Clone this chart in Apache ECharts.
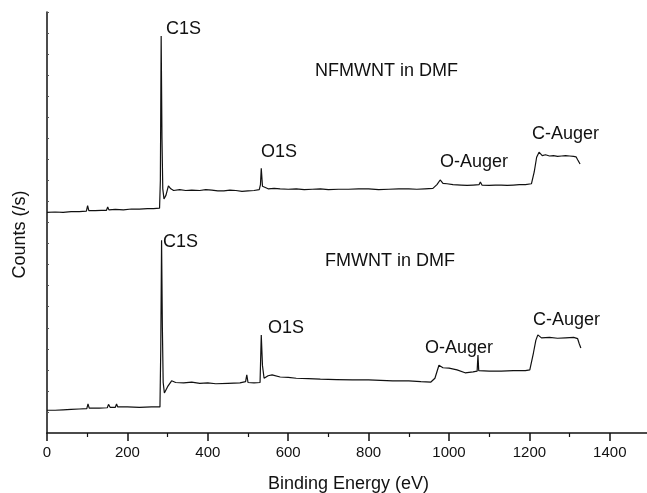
<!DOCTYPE html>
<html>
<head>
<meta charset="utf-8">
<script src="https://cdn.jsdelivr.net/npm/echarts@6/dist/echarts.min.js"></script>
<style>html,body{margin:0;padding:0;background:#fff;}#c{width:647px;height:493px;}</style>
</head>
<body>
<div id="c"></div>
<script>
// Binding energy (eV) / relative counts
const nfmwnt = [
 [0,52.4],[20,52.5],[40,52.4],[60,52.6],[80,52.6],[98,52.7],[101,54.0],[104,52.8],[120,52.8],[135,52.9],[148,52.9],[151,53.7],[154,53.0],
 [170,53.1],[190,53.0],[210,53.2],[230,53.2],[250,53.3],[265,53.3],[280,53.4],[282,60],[284,94.3],[286,70],[288,58],[291,55.6],
 [296,56.5],[302,58.7],[308,58.0],[315,57.6],[330,57.8],[345,57.6],[360,57.7],[380,57.6],[395,57.8],[410,57.7],[425,57.5],[440,57.5],
 [455,57.7],[470,57.6],[485,57.4],[500,57.5],[515,57.6],[528,57.8],[531,59],[533,62.9],[536,58.6],[540,58.2],[550,58.0],[565,58.1],
 [580,58.0],[600,57.9],[620,58.0],[640,57.8],[660,57.9],[680,58.0],[700,57.8],[725,57.9],[750,57.9],[775,58.0],[800,58.0],[825,57.8],
 [850,57.9],[875,58.0],[900,58.0],[920,57.9],[940,58.0],[960,58.1],[970,59],[978,60.1],[985,59.3],[995,59.2],[1010,59.0],
 [1030,58.9],[1045,58.8],[1060,58.9],[1075,59.0],[1078,59.6],[1082,58.9],[1100,58.8],[1115,58.9],[1130,58.9],[1145,58.8],[1160,58.9],
 [1175,59.0],[1190,59.0],[1205,59.2],[1212,62],[1218,65.5],[1224,66.7],[1232,65.9],[1240,66.1],[1250,65.8],[1260,65.9],[1270,65.7],
 [1280,65.8],[1290,65.9],[1300,65.8],[1310,65.7],[1316,65.6],[1320,64.9],[1326,63.9]
];
const fmwnt = [
 [0,5.4],[20,5.4],[40,5.5],[60,5.6],[80,5.7],[99,5.8],[102,6.9],[105,5.9],[130,5.9],[150,6.0],[153,6.8],[157,6.1],[170,6.1],
 [173,6.9],[176,6.2],[200,6.2],[230,6.1],[260,6.2],[281,6.2],[283,20],[285,45.8],[287,25],[289,12],[292,9.5],[300,11.0],
 [310,12.4],[320,12.0],[340,11.9],[360,12.1],[380,11.8],[400,11.9],[420,11.7],[450,11.8],[480,11.9],[494,12.2],[497,13.8],
 [500,12.0],[515,11.9],[530,12.0],[533,23.3],[536,16],[540,13.0],[550,13.6],[560,13.8],[580,13.3],[600,13.2],[620,13.0],
 [650,12.9],[680,12.8],[720,12.7],[760,12.6],[800,12.6],[830,12.5],[860,12.4],[900,12.4],[930,12.2],[955,12.1],[965,13],
 [975,16.1],[985,15.5],[1000,15.4],[1020,15.0],[1040,14.3],[1060,14.5],[1070,14.7],[1072,18.5],[1074,14.8],[1100,14.7],
 [1130,14.7],[1160,14.8],[1190,14.8],[1201,15.0],[1210,19],[1216,22],[1221,23.3],[1230,22.6],[1250,22.7],[1270,22.5],
 [1290,22.6],[1310,22.7],[1320,22.4],[1324,21.2],[1328,20.2]
];
const xTickLabels = ['0','200','400','600','800','1000','1200','1400'];
const annotations = [
 {text:'C1S', left:166, top:20},
 {text:'NFMWNT in DMF', left:315, top:62},
 {text:'O1S', left:261, top:143},
 {text:'O-Auger', left:440, top:153},
 {text:'C-Auger', left:532, top:125},
 {text:'C1S', left:163, top:233},
 {text:'FMWNT in DMF', left:325, top:252},
 {text:'O1S', left:268, top:319},
 {text:'O-Auger', left:425, top:339},
 {text:'C-Auger', left:533, top:311}
];

const FONT = '"Liberation Sans", Arial, sans-serif';
const chart = echarts.init(document.getElementById('c'));
chart.setOption({
  animation: false,
  backgroundColor: '#fff',
  grid: {left: 47, right: -3, top: 12, bottom: 60, containLabel: false, outerBoundsMode: 'none'},
  xAxis: {
    type: 'value', min: 0, max: 1500, interval: 200,
    name: 'Binding Energy (eV)', nameLocation: 'middle', nameGap: 42,
    nameTextStyle: {fontFamily: FONT, fontSize: 18, color: '#111'},
    axisLine: {lineStyle: {color: '#111', width: 1.5}},
    axisTick: {inside: false, length: 8, lineStyle: {color: '#111', width: 1.5}},
    minorTick: {show: true, splitNumber: 2, length: 4, lineStyle: {color: '#111', width: 1.2}},
    axisLabel: {margin: 12, fontFamily: FONT, fontSize: 15, color: '#111', showMaxLabel: false,
      formatter: v => xTickLabels.indexOf(String(v)) >= 0 ? String(v) : ''},
    splitLine: {show: false}
  },
  yAxis: {
    type: 'value', min: 0, max: 100, interval: 5,
    name: 'Counts (/s)', nameLocation: 'middle', nameGap: 18,
    nameTextStyle: {fontFamily: FONT, fontSize: 18, color: '#111', padding: [0, 24, 0, 0]},
    axisLine: {show: true, lineStyle: {color: '#111', width: 1.5}},
    axisTick: {show: true, inside: true, length: 2, lineStyle: {color: '#555', width: 1}},
    axisLabel: {show: false},
    splitLine: {show: false}
  },
  series: [
    {type: 'line', data: nfmwnt, showSymbol: false, lineStyle: {color: '#111', width: 1.2}},
    {type: 'line', data: fmwnt, showSymbol: false, lineStyle: {color: '#111', width: 1.2}}
  ],
  graphic: annotations.map(a => ({
    type: 'text', left: a.left, top: a.top,
    style: {text: a.text, font: '18px ' + FONT, fill: '#111'}
  }))
});
</script>
</body>
</html>
